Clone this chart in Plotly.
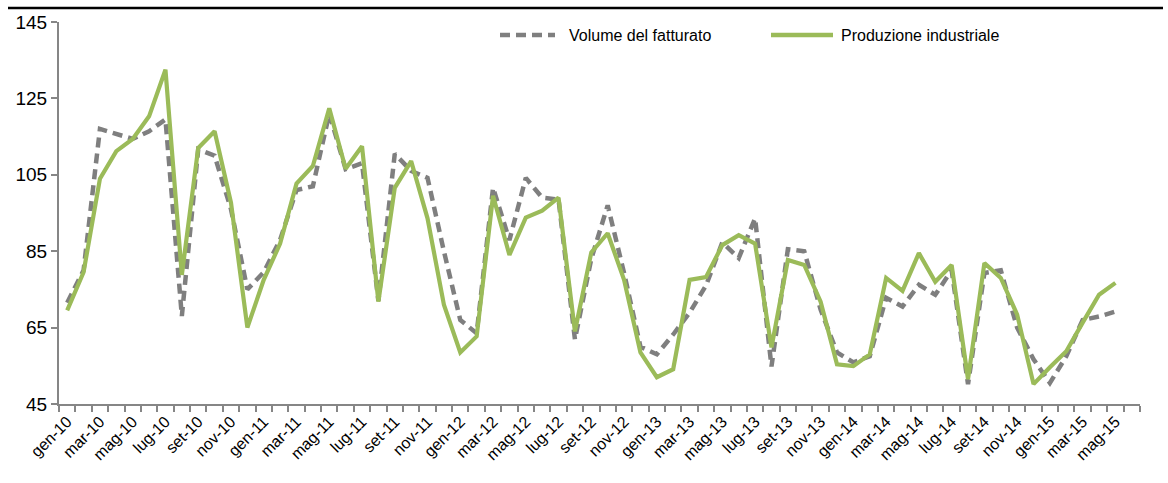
import plotly.graph_objects as go

# ---- data ----
mesi = ["gen", "feb", "mar", "apr", "mag", "giu", "lug", "ago", "set", "ott", "nov", "dic"]
anni = ["10", "11", "12", "13", "14", "15"]
categorie = [f"{m}-{a}" for a in anni for m in mesi][:66]  # gen-10 ... giu-15

volume_fatturato = [71.5, 80, 117, 115.6, 114.4, 116.4, 119.5, 68, 111.7, 110,
                    96, 75, 79.5, 88, 101, 102, 121, 106.5, 108, 72,
                    110.5, 106, 104.2, 85, 67, 63.5, 101.6, 87.9, 104.2, 99,
                    98.5, 61.9, 83, 97, 79.3, 60, 58, 63.2, 68.9, 76,
                    87.3, 83.2, 93.6, 54.8, 85.5, 85, 69.7, 58.5, 55.9, 57.5,
                    72.8, 70.5, 76.2, 73.6, 80, 50.2, 79.3, 80, 65, 56.7,
                    50.5, 57.5, 67, 67.9, 69.2]

produzione_industriale = [69.5, 79.5, 104, 111.2, 114.4, 120.3, 132.5, 78.8, 112, 116.4,
                          97.7, 65, 77.5, 87, 102.7, 107.3, 122.4, 106.6, 112.5, 71.8,
                          101.6, 108.6, 93.6, 71, 58.5, 62.7, 99.5, 84, 93.8, 95.6,
                          99, 64, 84.7, 89.7, 77.5, 58.5, 52, 54.1, 77.5, 78.2,
                          86.6, 89.2, 87, 59.8, 82.7, 81.4, 71.8, 55.4, 54.9, 58,
                          78, 74.6, 84.5, 77, 81.4, 51.5, 81.9, 78, 68.4, 50.2,
                          54.6, 58.8, 66.3, 73.6, 76.7]

serie_nomi = ["Volume del fatturato", "Produzione industriale"]
tick_labels = categorie[::2]

# ---- styling ----
GRAY = "#7f7f7f"
GREEN = "#9bbb59"
AXIS = "#868686"
FONT = "Liberation Sans Narrow, Arial Narrow, Liberation Sans, Arial, sans-serif"

W, H = 1168, 483
ML, MR, MT, MB = 59, 28, 22, 79


def px_to_paper(px, py):
    return (px - ML) / (W - ML - MR), (H - MB - py) / (H - MT - MB)


x_idx = list(range(len(categorie)))

fig = go.Figure()
fig.add_trace(go.Scatter(
    x=x_idx[:len(volume_fatturato)], y=volume_fatturato, mode="lines",
    name=serie_nomi[0], line=dict(color=GRAY, width=4.5, dash="10px,6px"),
    showlegend=False, hoverinfo="skip"))
fig.add_trace(go.Scatter(
    x=x_idx[:len(produzione_industriale)], y=produzione_industriale, mode="lines",
    name=serie_nomi[1], line=dict(color=GREEN, width=4.2),
    showlegend=False, hoverinfo="skip"))

fig.update_layout(
    width=W, height=H,
    margin=dict(l=ML, r=MR, t=MT, b=MB, pad=0),
    paper_bgcolor="white", plot_bgcolor="white",
    font=dict(family=FONT, color="black"),
    xaxis=dict(
        range=[-0.5, len(categorie) - 0.5],
        tickmode="array", tickvals=x_idx[::2], ticktext=tick_labels,
        tickangle=-45, ticks="", showgrid=False, zeroline=False,
        showline=True, linecolor=AXIS, linewidth=2,
        tickfont=dict(size=16, family=FONT),
        minor=dict(ticks="outside", tick0=-0.5, dtick=1, ticklen=6,
                   tickcolor=AXIS, tickwidth=1.5, showgrid=False),
    ),
    yaxis=dict(
        range=[45, 145], tick0=45, dtick=20, ticks="outside", ticklen=6,
        tickcolor=AXIS, tickwidth=1.5, showgrid=False, zeroline=False,
        showline=True, linecolor=AXIS, linewidth=2,
        tickfont=dict(size=19, family=FONT),
    ),
)

# top rule
x0, y0 = px_to_paper(8, 8)
x1, _ = px_to_paper(1163, 8)
fig.add_shape(type="line", xref="paper", yref="paper", x0=x0, x1=x1, y0=y0, y1=y0,
              line=dict(color="black", width=2.5))

# legend (drawn)
leg = [
    (500, 555, 567, GRAY, "10px,6px", 4.5, serie_nomi[0]),
    (771, 833, 839, GREEN, "solid", 4.5, serie_nomi[1]),
]
for sx0, sx1, tx, col, dash, wdt, txt in leg:
    a, ly = px_to_paper(sx0, 35)
    b, _ = px_to_paper(sx1, 35)
    fig.add_shape(type="line", xref="paper", yref="paper", x0=a, x1=b, y0=ly, y1=ly,
                  line=dict(color=col, width=wdt, dash=dash))
    t, _ = px_to_paper(tx, 35)
    fig.add_annotation(xref="paper", yref="paper", x=t, y=ly, text=txt, showarrow=False,
                       xanchor="left", yanchor="middle",
                       font=dict(size=16, family=FONT, color="black"))

fig.write_html("out.html", config={"displayModeBar": False},
               post_script="document.body.style.margin='0';")
